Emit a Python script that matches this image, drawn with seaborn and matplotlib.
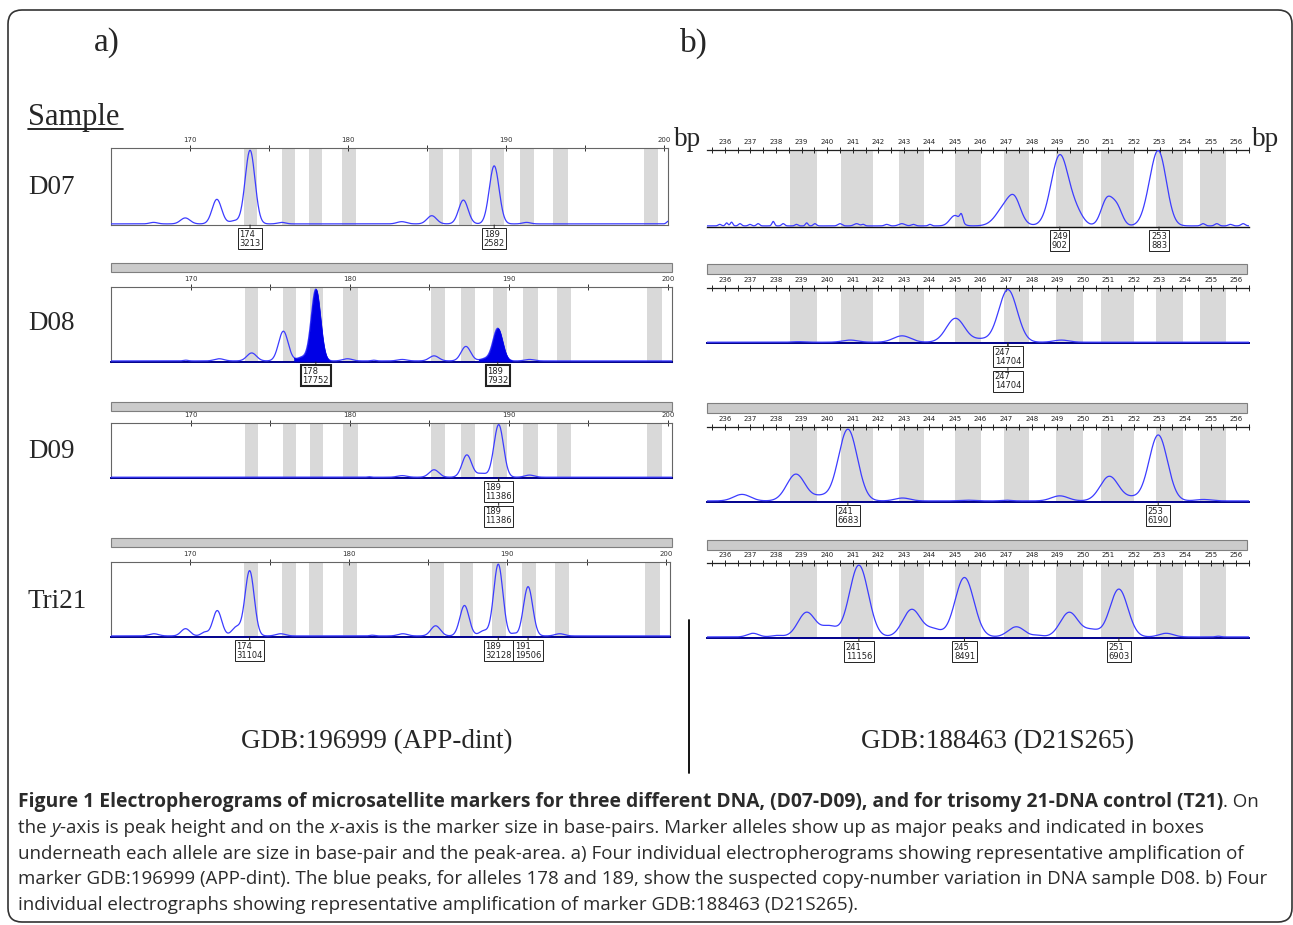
import numpy as np
import pandas as pd
import matplotlib
matplotlib.use('Agg')
import matplotlib.pyplot as plt
import seaborn as sns
from matplotlib.patches import Rectangle, FancyBboxPatch
from matplotlib.lines import Line2D
from matplotlib.transforms import blended_transform_factory

W, H = 1293, 925

# ---- data ----
app_ticks = [170, 180, 190, 200]
app_minor = [175, 185, 195]
app_xlim = (165.0, 200.25)
app_bins_start = [173.4, 175.8, 177.5, 179.6, 185.1, 187.0, 189.0, 190.9, 193.0, 198.7]
app_bins_end = [174.25, 176.65, 178.35, 180.5, 186.0, 187.85, 189.9, 191.8, 193.9, 199.6]

d21_ticks = list(range(236, 257))
d21_xlim = (235.3, 256.5)
d21_bins_start = [238.55, 240.55, 242.8, 245.0, 246.9, 248.95, 250.7, 252.85, 254.6]
d21_bins_end = [239.6, 241.8, 243.8, 246.0, 247.9, 250.0, 252.0, 253.9, 255.6]

# peaks: (size bp, relative height, width bp)
app_d07_peaks = [(167.7, 0.02, 0.25), (169.7, 0.08, 0.3), (171.7, 0.33, 0.3), (172.8, 0.04, 0.3),
                 (173.8, 0.99, 0.31), (175.8, 0.02, 0.25), (183.4, 0.03, 0.3), (185.3, 0.11, 0.3),
                 (187.3, 0.32, 0.3), (189.25, 0.78, 0.31), (191.3, 0.02, 0.25), (200.3, 0.04, 0.12)]
app_d08_peaks = [(169.7, 0.01, 0.15), (171.8, 0.03, 0.3), (173.84, 0.11, 0.3), (175.83, 0.41, 0.3),
                 (177.0, 0.05, 0.3), (177.87, 0.99, 0.29), (179.86, 0.03, 0.3), (181.5, 0.01, 0.15),
                 (183.3, 0.02, 0.3), (185.3, 0.07, 0.3), (187.3, 0.2, 0.3), (188.5, 0.03, 0.3),
                 (189.3, 0.45, 0.3), (191.3, 0.02, 0.3)]
app_d09_peaks = [(181.2, 0.01, 0.1), (183.3, 0.03, 0.3), (185.3, 0.14, 0.3), (187.36, 0.42, 0.3),
                 (188.3, 0.07, 0.3), (189.36, 0.99, 0.3), (191.3, 0.04, 0.3)]
app_tri_peaks = [(167.7, 0.03, 0.3), (169.7, 0.10, 0.28), (170.9, 0.05, 0.22), (171.7, 0.35, 0.28),
                 (172.9, 0.12, 0.28), (173.74, 0.90, 0.29), (175.7, 0.03, 0.3), (181.47, 0.01, 0.15),
                 (183.4, 0.03, 0.3), (185.47, 0.14, 0.3), (187.29, 0.42, 0.29), (188.5, 0.07, 0.28),
                 (189.42, 0.99, 0.29), (190.4, 0.03, 0.15), (191.3, 0.68, 0.29), (193.3, 0.03, 0.3)]

d21_d07_peaks = [(235.8, 0.02, 0.06), (236.07, 0.04, 0.05), (236.26, 0.05, 0.05), (236.59, 0.03, 0.06),
                 (236.98, 0.02, 0.06), (237.3, 0.03, 0.06), (237.89, 0.06, 0.05), (238.28, 0.03, 0.06),
                 (238.8, 0.02, 0.06), (239.2, 0.04, 0.05), (239.52, 0.03, 0.06), (240.5, 0.03, 0.08),
                 (241.15, 0.03, 0.1), (241.41, 0.02, 0.06), (242.33, 0.02, 0.08), (242.92, 0.03, 0.12),
                 (243.37, 0.02, 0.08), (244.02, 0.02, 0.06), (245.0, 0.14, 0.2), (245.25, 0.1, 0.06),
                 (247.05, 0.3, 0.38), (247.35, 0.18, 0.22), (249.1, 0.95, 0.34), (249.75, 0.15, 0.27),
                 (250.95, 0.36, 0.23), (251.35, 0.22, 0.2), (252.6, 0.18, 0.27), (252.98, 0.94, 0.3),
                 (254.7, 0.03, 0.08), (255.24, 0.03, 0.08), (255.77, 0.02, 0.08), (256.27, 0.03, 0.08)]
d21_d08_peaks = [(238.9, 0.01, 0.25), (240.9, 0.04, 0.3), (242.93, 0.12, 0.34), (245.02, 0.45, 0.36),
                 (246.0, 0.05, 0.3), (247.07, 0.99, 0.36), (249.16, 0.04, 0.3)]
d21_d09_peaks = [(236.67, 0.09, 0.33), (238.78, 0.37, 0.36), (239.75, 0.06, 0.3), (240.81, 0.99, 0.37),
                 (242.95, 0.04, 0.3), (245.5, 0.01, 0.3), (247.0, 0.01, 0.2), (249.1, 0.07, 0.33),
                 (251.04, 0.34, 0.36), (251.95, 0.04, 0.3), (252.95, 0.91, 0.36), (254.72, 0.02, 0.3)]
d21_tri_peaks = [(237.1, 0.05, 0.22), (238.04, 0.02, 0.22), (239.2, 0.34, 0.34), (240.08, 0.14, 0.3),
                 (241.24, 0.99, 0.37), (243.31, 0.38, 0.35), (244.16, 0.1, 0.3), (245.37, 0.82, 0.37),
                 (247.4, 0.14, 0.32), (248.24, 0.02, 0.2), (249.47, 0.34, 0.35), (250.35, 0.09, 0.3),
                 (251.41, 0.66, 0.35), (253.26, 0.05, 0.28), (255.3, 0.01, 0.1)]

# allele calls: (size bp, box text, box level)
app_d07_calls = [(173.8, '174\n3213', 0), (189.25, '189\n2582', 0)]
app_d08_calls = [(177.87, '178\n17752', 0), (189.3, '189\n7932', 0)]
app_d09_calls = [(189.36, '189\n11386', 0), (189.36, '189\n11386', 1)]
app_tri_calls = [(173.74, '174\n31104', 0), (189.42, '189\n32128', 0), (191.3, '191\n19506', 0)]
d21_d07_calls = [(249.1, '249\n902', 0), (252.98, '253\n883', 0)]
d21_d08_calls = [(247.07, '247\n14704', 0), (247.07, '247\n14704', 1)]
d21_d09_calls = [(240.81, '241\n6683', 0), (252.95, '253\n6190', 0)]
d21_tri_calls = [(241.24, '241\n11156', 0), (245.37, '245\n8491', 0), (251.41, '251\n6903', 0)]

app_d08_fills = [(176.5, 178.75), (188.1, 190.2)]

row_names = ['D07', 'D08', 'D09', 'Tri21']

TRACE = '#3c3cff'
FILL = '#0000e6'
BIN = '#d9d9d9'
NAVY = '#00008b'


def px_rect(x0, y0, x1, y1):
    return [x0 / W, 1 - y1 / H, (x1 - x0) / W, (y1 - y0) / H]


def trace(peaks, lo, hi):
    x = np.linspace(lo, hi, 3000)
    y = np.zeros_like(x)
    for pos, h, s in peaks:
        y += h * np.exp(-0.5 * ((x - pos) / s) ** 2)
    return pd.DataFrame({'bp': x, 'height': y})


def draw_panel(fig, rect, marker, peaks, calls, first, fills=(), bold_box=False):
    ax = fig.add_axes(px_rect(*rect))
    if marker == 'app':
        xlim, starts, ends = app_xlim, app_bins_start, app_bins_end
    else:
        xlim, starts, ends = d21_xlim, d21_bins_start, d21_bins_end
    for a, b in zip(starts, ends):
        ax.axvspan(a, b, color=BIN, lw=0, zorder=0)

    df = trace(peaks, *xlim)
    sns.lineplot(data=df, x='bp', y='height', ax=ax, color=TRACE, lw=0.9, zorder=3)
    for a, b in fills:
        m = (df.bp >= a) & (df.bp <= b)
        ax.fill_between(df.bp[m], 0, df.height[m], color=FILL, lw=0.5, zorder=4)

    ax.set_xlim(xlim)
    ax.set_ylim(-0.015, 1.02)
    ax.set_xlabel('')
    ax.set_ylabel('')
    ax.xaxis.tick_top()

    if marker == 'app':
        ax.set_xticks(app_ticks)
        ax.set_xticklabels([str(t) for t in app_ticks])
        ax.set_xticks(app_minor, minor=True)
        ax.tick_params(axis='x', which='both', direction='inout', length=5, width=0.7,
                       labelsize=5, pad=1, colors='#333333')
        ax.set_yticks(np.linspace(0.125, 1, 8))
        ax.tick_params(axis='y', direction='in', length=2.5, width=0.6, labelleft=False, colors='#555555')
        for s in ax.spines.values():
            s.set_color('#666666')
            s.set_linewidth(0.8)
    else:
        ax.set_xticks(d21_ticks)
        ax.set_xticklabels([str(t) for t in d21_ticks])
        ax.set_xticks([t + 0.5 for t in d21_ticks[:-1]] + [235.5, 256.5], minor=True)
        ax.tick_params(axis='x', which='both', direction='inout', length=4.5, width=0.7,
                       labelsize=5, pad=1, colors='#222222')
        ax.set_yticks([])
        ax.spines['left'].set_visible(False)
        ax.spines['right'].set_visible(False)
        ax.spines['top'].set_color('#222222')
        ax.spines['top'].set_linewidth(0.9)

    if first:
        ax.spines['bottom'].set_color('#666666' if marker == 'app' else '#111111')
        ax.spines['bottom'].set_linewidth(0.8 if marker == 'app' else 1.0)
    else:
        ax.spines['bottom'].set_color(NAVY)
        ax.spines['bottom'].set_linewidth(1.4)

    trans = blended_transform_factory(ax.transData, ax.transAxes)
    for pos, text, level in calls:
        ax.annotate(text, xy=(pos, 0), xycoords=trans, xytext=(0, -3.5 - level * 17.5),
                    textcoords='offset points', ha='center', va='top', fontsize=6.0,
                    family='DejaVu Sans', linespacing=1.0, multialignment='left', color='#222222',
                    bbox=dict(boxstyle='square,pad=0.18', fc='white', ec='#222222',
                              lw=1.5 if bold_box else 0.7),
                    arrowprops=dict(arrowstyle='-', lw=0.7, color='#222222', shrinkA=0, shrinkB=0),
                    annotation_clip=False, zorder=6 - level)
    return ax


def gray_bar(fig, x0, y0, x1, y1):
    fig.add_artist(Rectangle((x0 / W, 1 - y1 / H), (x1 - x0) / W, (y1 - y0) / H,
                             transform=fig.transFigure, fc='#cbcbcb', ec='#7f7f7f', lw=0.8))


def caption_line(fig, renderer, x, y, runs, size):
    for txt, weight, style in runs:
        fs = size + 0.4 if weight == 'bold' else size
        kw = dict(fontsize=fs, fontweight=weight, fontstyle=style, family='Open Sans')
        fig.text(x / W, 1 - y / H, txt, color='#2b2b2b', va='baseline', ha='left', **kw)
        probe = fig.text(0, 0, txt + '|', **kw)
        bar = fig.text(0, 0, '|', **kw)
        x += probe.get_window_extent(renderer).width - bar.get_window_extent(renderer).width
        probe.remove()
        bar.remove()


def main():
    sns.set_style('white')
    plt.rcParams['font.family'] = ['DejaVu Sans']
    fig = plt.figure(figsize=(W / 100, H / 100), dpi=100)

    # left column: APP-dint
    draw_panel(fig, (111, 148, 668, 225), 'app', app_d07_peaks, app_d07_calls, True)
    draw_panel(fig, (111, 287, 672, 362), 'app', app_d08_peaks, app_d08_calls, False,
               fills=app_d08_fills, bold_box=True)
    draw_panel(fig, (111, 423, 672, 478), 'app', app_d09_peaks, app_d09_calls, False)
    draw_panel(fig, (111, 562, 670, 637), 'app', app_tri_peaks, app_tri_calls, False)
    for y0 in (263, 402, 538):
        gray_bar(fig, 111, y0, 672, y0 + 9)

    # right column: D21S265
    draw_panel(fig, (707, 150, 1249, 227), 'd21', d21_d07_peaks, d21_d07_calls, True)
    draw_panel(fig, (707, 288, 1249, 343), 'd21', d21_d08_peaks, d21_d08_calls, False)
    draw_panel(fig, (707, 427, 1249, 502), 'd21', d21_d09_peaks, d21_d09_calls, False)
    draw_panel(fig, (707, 563, 1249, 638), 'd21', d21_tri_peaks, d21_tri_calls, False)
    for y0 in (264, 403, 540):
        gray_bar(fig, 707, y0, 1247, y0 + 10)

    serif = 'Liberation Serif'
    fig.text(107 / W, 1 - 43 / H, 'a)', family=serif, fontsize=24, ha='center', va='center')
    fig.text(694 / W, 1 - 43 / H, 'b)', family=serif, fontsize=24, ha='center', va='center')
    fig.text(28 / W, 1 - 117 / H, 'Sample', family=serif, fontsize=22, ha='left', va='center')
    fig.add_artist(Line2D([28 / W, 123 / W], [1 - 129 / H] * 2, color='black', lw=1.2))
    for name, y in zip(row_names, (188, 324, 452, 602)):
        fig.text(28 / W, 1 - y / H, name, family=serif, fontsize=19.5, ha='left', va='center')
    fig.text(674 / W, 1 - 139 / H, 'bp', family=serif, fontsize=19.5, ha='left', va='center')
    fig.text(1252 / W, 1 - 139 / H, 'bp', family=serif, fontsize=19.5, ha='left', va='center')
    fig.text(377 / W, 1 - 742 / H, 'GDB:196999 (APP-dint)', family=serif, fontsize=19.5,
             ha='center', va='center')
    fig.text(998 / W, 1 - 742 / H, 'GDB:188463 (D21S265)', family=serif, fontsize=19.5,
             ha='center', va='center')
    fig.add_artist(Line2D([689 / W] * 2, [1 - 620 / H, 1 - 773 / H], color='black', lw=1.3))

    # caption
    renderer = fig.canvas.get_renderer()
    n, b, i = ('normal', 'normal'), ('bold', 'normal'), ('normal', 'italic')
    lines = [
        [('Figure 1 Electropherograms of microsatellite markers for three different DNA, (D07-D09), '
          'and for trisomy 21-DNA control (T21)',) + b, ('. On',) + n],
        [('the ',) + n, ('y',) + i, ('-axis is peak height and on the ',) + n, ('x',) + i,
         ('-axis is the marker size in base-pairs. Marker alleles show up as major peaks and indicated in boxes',) + n],
        [('underneath each allele are size in base-pair and the peak-area. a) Four individual '
          'electropherograms showing representative amplification of',) + n],
        [('marker GDB:196999 (APP-dint). The blue peaks, for alleles 178 and 189, show the suspected '
          'copy-number variation in DNA sample D08. b) Four',) + n],
        [('individual electrographs showing representative amplification of marker GDB:188463 (D21S265).',) + n],
    ]
    for k, runs in enumerate(lines):
        caption_line(fig, renderer, 18, 807 + k * 25.8, runs, 13.5)

    fig.add_artist(FancyBboxPatch((0.08, 0.03), 12.84, 9.12, transform=fig.dpi_scale_trans,
                                  boxstyle='round,pad=0,rounding_size=0.14', fc='none',
                                  ec='#333333', lw=1.2))

    fig.savefig('out.png', dpi=100)


if __name__ == '__main__':
    main()
